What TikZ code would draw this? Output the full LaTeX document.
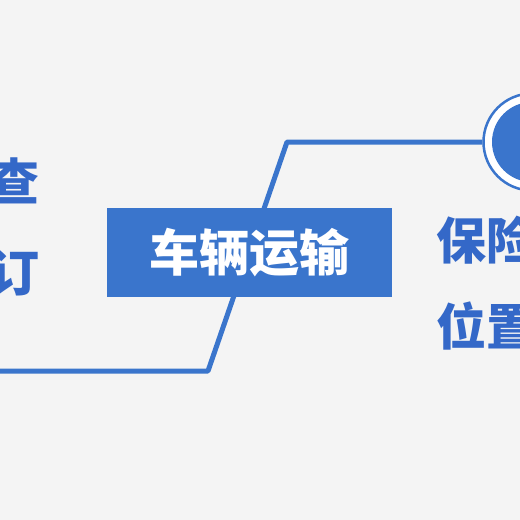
\documentclass[tikz,border=0pt]{standalone}
\usepackage{fontspec}
\newfontfamily\cjk{Noto Sans CJK SC}
\usetikzlibrary{positioning}
\definecolor{mapblue}{RGB}{58,117,204}
\definecolor{leafblue}{RGB}{52,104,200}
\definecolor{bggray}{RGB}{244,244,244}
\tikzset{
  topic/.style={fill=mapblue, text=white, minimum width=285pt, minimum height=89pt, inner sep=0pt,
    font=\cjk\bfseries\fontsize{50}{50}\selectfont},
  leaf/.style={text=leafblue, inner sep=0pt, font=\cjk\bfseries\fontsize{50}{50}\selectfont},
  hub/.style={circle, draw=mapblue, fill=white, line width=2.5pt, minimum size=97pt, inner sep=0pt,
    path picture={\fill[mapblue] (path picture bounding box.center) circle (40pt);}},
  branch/.style={draw=mapblue, line width=5pt, line join=round}
}

\begin{document}
\begin{tikzpicture}[x=1pt, y=-1pt]
				    		\clip (0,0) rectangle (520,520);
				    		\fill[bggray] (0,0) rectangle (520,520);
				    		\node[hub] (hub) at (532,142) {};
				    		\coordinate (west) at (-20,371);
				    		\coordinate (lowbend) at (208,371);
				    		\coordinate (highbend) at (287,142);
				    		\draw[branch] (west)--(lowbend)--(highbend)--(hub);
				    		\node[topic] (transport) at (249.5,252.5) {车辆运输\hspace{12pt}};
							\node[leaf, anchor=east] (check) at (40,181) {查};
							\node[leaf, anchor=east] (order) at (40,272) {订};
							\node[leaf, anchor=west] (insure) at (436,240) {保险};
							\node[leaf, anchor=west] (locate) at (436,326) {位置};
				    	\end{tikzpicture}
\end{document}
